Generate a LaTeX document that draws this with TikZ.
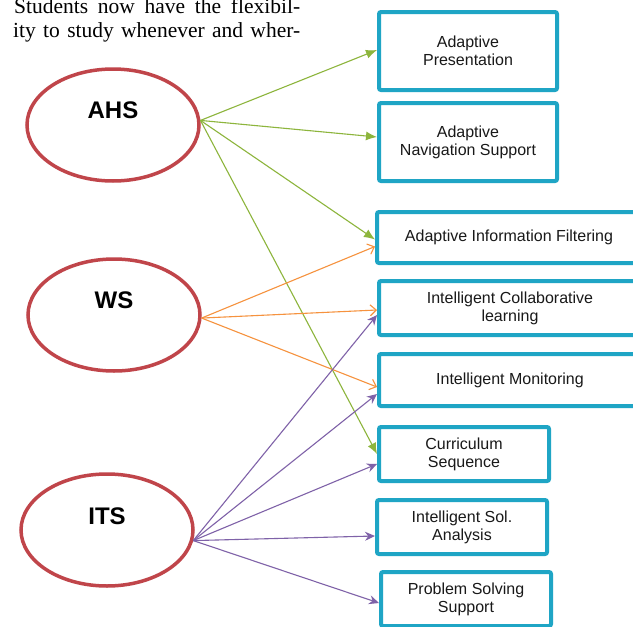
\documentclass[tikz,border=0pt]{standalone}
\usepackage{fontspec}
\setmainfont{Liberation Serif}
\newfontfamily\arialfont{Liberation Sans}
\usetikzlibrary{arrows.meta,shapes.geometric}
\definecolor{ellred}{HTML}{C0454A}
\definecolor{boxblue}{HTML}{1FA5C5}
\definecolor{agreen}{HTML}{8DB53C}
\definecolor{aorange}{HTML}{F6923E}
\definecolor{apurple}{HTML}{7F62A8}
\begin{document}
\begin{tikzpicture}[x=1pt,y=-1pt,
  ell/.style={ellipse,draw=ellred,line width=3.5pt,minimum width=172pt,minimum height=112pt,inner sep=0pt},
  elltext/.style={font=\arialfont\fontsize{24}{28}\selectfont\bfseries},
  box/.style={draw=boxblue,line width=4pt,rounded corners=2pt,align=center,inner sep=0pt,
    font=\arialfont\fontsize{16}{18}\selectfont,text=black!90},
  ga/.style={draw=agreen,line width=1.1pt,-{Latex[length=11pt,width=9pt]}},
  oa/.style={draw=aorange,line width=1.1pt,-{Straight Barb[length=6pt,width=11pt]}},
  pa/.style={draw=apurple,line width=1.1pt,-{Stealth[length=10pt,width=9pt]}},
  toptext/.style={font=\fontsize{21.5}{25}\selectfont,inner sep=0pt,anchor=base west}
]
\clip (0,0) rectangle (633,627);
\fill[white] (0,0) rectangle (633,627);

\node[toptext] (t1) at (14,13) {\makebox[286pt][s]{Students now have the flexibil-}};
\node[toptext] (t2) at (13,37) {\makebox[287pt][s]{ity to study whenever and wher-}};

\node[ell] (ahs) at (113,125) {};
\node[elltext] (ahsl) at (113,110) {AHS};
\node[ell] (ws) at (114,315) {};
\node[elltext] (wsl) at (114,300) {WS};
\node[ell] (its) at (107,530) {};
\node[elltext] (itsl) at (107,516) {ITS};

\node[box,minimum width=178pt,minimum height=78pt] (b1) at (468,51) {Adaptive\\Presentation};
\node[box,minimum width=178pt,minimum height=78pt] (b2) at (468,142) {Adaptive\\Navigation Support};
\node[box,minimum width=264pt,minimum height=51pt] (b3) at (509,237.5) {Adaptive Information Filtering};
\node[box,minimum width=262pt,minimum height=54pt] (b4) at (510,308) {Intelligent Collaborative\\learning};
\node[box,minimum width=262pt,minimum height=52pt] (b5) at (510,380) {Intelligent Monitoring};
\node[box,minimum width=170pt,minimum height=54pt] (b6) at (464,454) {Curriculum\\Sequence};
\node[box,minimum width=170pt,minimum height=54pt] (b7) at (462,527) {Intelligent Sol.\\Analysis};
\node[box,minimum width=170pt,minimum height=54pt] (b8) at (466,599) {Problem Solving\\Support};

\draw[ga] (ahs.3) -- ([yshift=1pt]b1.west);
\draw[ga] (ahs.3) -- ([yshift=5pt]b2.west);
\draw[ga] (ahs.3) -- ([yshift=-2pt]b3.west);
\draw[ga] (ahs.3) -- (b6.west);

\draw[oa] (ws.-2) -- ([yshift=-9pt]b3.west);
\draw[oa] (ws.-2) -- ([yshift=-2pt]b4.west);
\draw[oa] (ws.-2) -- ([yshift=-7pt]b5.west);

\draw[pa] (its.-7) -- ([yshift=-7pt]b4.west);
\draw[pa] (its.-7) -- ([yshift=-14pt]b5.west);
\draw[pa] (its.-7) -- ([yshift=-10pt]b6.west);
\draw[pa] (its.-7) -- ([yshift=-9pt]b7.west);
\draw[pa] (its.-7) -- ([yshift=-4pt]b8.west);
\end{tikzpicture}
\end{document}
